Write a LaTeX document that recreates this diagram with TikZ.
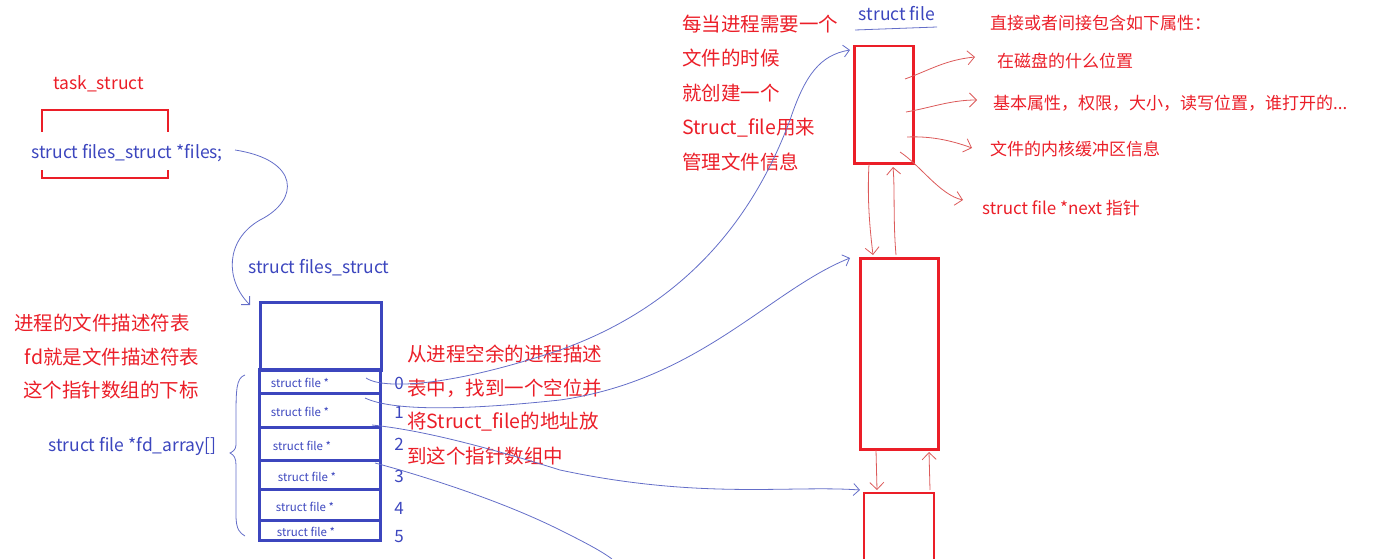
\documentclass[tikz,border=0pt]{standalone}
\usepackage{fontspec}
\setmainfont{Noto Sans CJK SC}
\usetikzlibrary{arrows.meta}
\definecolor{rd}{RGB}{235,30,40}
\definecolor{bl}{RGB}{60,70,190}
\definecolor{bll}{RGB}{100,110,200}
\definecolor{rdl}{RGB}{220,90,90}
\begin{document}
\begin{tikzpicture}[x=1pt,y=-1pt,
 rt/.style={text=rd,font=\fontsize{19.5}{20}\selectfont,anchor=west,inner sep=0},
 rs/.style={text=rd,font=\fontsize{17}{17}\selectfont,anchor=west,inner sep=0},
 bt/.style={text=bl,font=\fontsize{17.5}{18}\selectfont,anchor=west,inner sep=0},
 sf/.style={text=bl,font=\fontsize{11.5}{12}\selectfont,inner sep=0},
 rbox/.style={draw=rd,line width=2.5pt},
 bbox/.style={draw=bl,line width=3pt},
 bcurve/.style={draw=bll,line width=0.8pt,-{Straight Barb[length=6pt]}},
 bline/.style={draw=bll,line width=0.8pt},
 rcurve/.style={draw=rdl,line width=0.8pt,-{Straight Barb[length=7pt]}}]
\useasboundingbox (0,0) rectangle (1386,559);
% task_struct
\node[text=rd,font=\fontsize{17.5}{18}\selectfont,anchor=west,inner sep=0] (ts) at (53,84) {task\_struct};
\draw[rd,line width=2pt] (42,132) -- (42,110) -- (168,110) -- (168,132);
\draw[rd,line width=2pt] (42,170) -- (42,178) -- (168,178) -- (168,170);
\node[bt] (files) at (31,153) {struct files\_struct *files;};
\node[bt] (fsname) at (248,268) {struct files\_struct};
% files_struct box
\node[bbox,minimum width=121pt,minimum height=68pt,anchor=north west,inner sep=0] (top) at (259,301) {};
\foreach \n/\a/\b/\dx in {r0/369/393/-3,r1/393/427/-3,r2/427/460/-1,r3/460/489/4,r4/489/520/2,r5/520/540/3}{
  \path[bbox] (259,\a) rectangle (380,\b);
  \coordinate (\n) at (259,\a);
  \node[sf] (t\n) at ({303+\dx},{(\a+\b)/2+2}) {struct file *};
}
\foreach \i/\y in {0/383,1/412,2/444,3/476,4/508,5/537}
  \node[text=bl,font=\fontsize{17}{17}\selectfont,inner sep=0] (i\i) at (399,\y) {\i};
\draw[bcurve] (235,150) coordinate (c0) .. controls (300,160) and (300,200) .. (260,220) .. controls (225,240) and (225,280) .. (250,305) coordinate (c1);
% brace
\draw[bline] (245,375) .. controls (236,378) and (236,390) .. (236,420) -- (236,445) .. controls (236,450) and (232,452) .. (230,453) .. controls (234,455) and (236,458) .. (236,465) -- (236,515) .. controls (236,530) and (240,533) .. (245,536);
\node[bt] (fda) at (48,446) {struct file *fd\_array[]};
% left red text
\node[text=rd,font=\fontsize{19.5}{20}\selectfont,inner sep=0] (l1) at (102,323) {进程的文件描述符表};
\node[text=rd,font=\fontsize{19.5}{20}\selectfont,inner sep=0] (l2) at (112,357) {fd就是文件描述符表};
\node[text=rd,font=\fontsize{19.5}{20}\selectfont,inner sep=0] (l3) at (111,390) {这个指针数组的下标};
% middle text
\node[rt] at (407,354) {从进程空余的进程描述};
\node[rt] at (407,388) {表中，找到一个空位并};
\node[rt] at (407,422) {将Struct\_file的地址放};
\node[rt] at (407,456) {到这个指针数组中};
% top text
\node[rt] at (682,24) {每当进程需要一个};
\node[rt] at (682,58) {文件的时候};
\node[rt] at (682,93) {就创建一个};
\node[rt] at (682,128) {Struct\_file用来};
\node[rt] at (682,162) {管理文件信息};
% struct file
\node[text=bl,font=\fontsize{17.5}{18}\selectfont,inner sep=0] (sfl) at (897,14) {struct file};
\draw[bll,line width=0.8pt] (855,30) -- (937,27);
% red boxes
\node[rbox,minimum width=59pt,minimum height=117pt,anchor=north west,inner sep=0] (b1) at (853,45) {};
\node[rbox,minimum width=78pt,minimum height=191pt,anchor=north west,inner sep=0] (b2) at (859,257) {};
\draw[rbox] (864,575) -- (864,493) -- (934,493) -- (934,575);
\coordinate (b3) at (864,493);
% right texts
\node[rs] (p0) at (990,23) {直接或者间接包含如下属性：};
\node[rs] (p1) at (997,61) {在磁盘的什么位置};
\node[rs] (p2) at (993,103) {基本属性，权限，大小，读写位置，谁打开的...};
\node[rs] (p3) at (990,149) {文件的内核缓冲区信息};
\node[rs] (p4) at (982,208) {struct file *next 指针};
\draw[rcurve] (905,79) .. controls (930,70) and (945,60) .. (975,57);
\draw[rcurve] (906,112) .. controls (930,108) and (950,100) .. (977,100);
\draw[rcurve] (907,137) .. controls (930,136) and (950,140) .. (972,148);
\draw[rcurve] (900,152) .. controls (920,165) and (940,195) .. (963,200);
% links between boxes
\draw[rcurve] (869,164) .. controls (867,200) and (870,230) .. (873,255);
\draw[rcurve] (896,255) .. controls (893,220) and (895,190) .. (893,167);
\draw[rcurve] (876,450) -- (877,490);
\draw[rcurve] (930,490) -- (929,452);
% blue pointers
\draw[bcurve] (366,378) .. controls (380,388) and (440,390) .. (560,350) .. controls (700,300) and (760,200) .. (790,120) .. controls (805,75) and (820,55) .. (850,50);
\draw[bcurve] (365,398) .. controls (380,405) and (420,415) .. (560,400) .. controls (700,380) and (770,290) .. (850,258);
\draw[bcurve] (372,425) .. controls (420,430) and (480,445) .. (560,470) .. controls (700,500) and (790,485) .. (860,490);
\draw[bline] (375,463) .. controls (420,475) and (500,500) .. (560,530) .. controls (580,540) and (600,550) .. (612,559);
\end{tikzpicture}
\end{document}
